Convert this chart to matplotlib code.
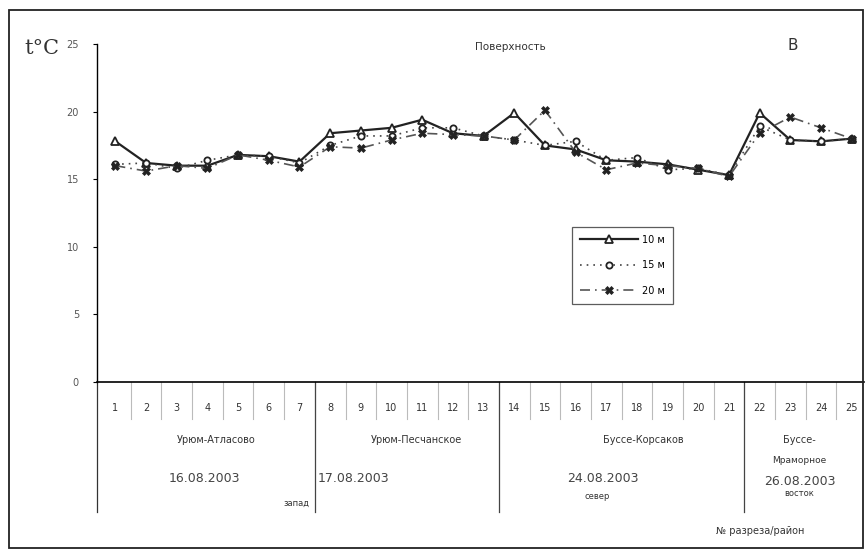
import matplotlib
matplotlib.use("Agg")
import matplotlib.pyplot as plt
from matplotlib.patches import Rectangle

# surface temperature by section, three depths
sections = list(range(1, 26))
t_10m = [17.8, 16.2, 16.0, 16.0, 16.8, 16.7, 16.3, 18.4, 18.6, 18.8, 19.4, 18.4, 18.2,
         19.9, 17.5, 17.2, 16.4, 16.3, 16.1, 15.7, 15.3, 19.9, 17.9, 17.8, 18.0]
t_15m = [16.1, 16.2, 15.8, 16.4, 16.8, 16.7, 16.2, 17.5, 18.2, 18.2, 18.8, 18.8, 18.2,
         17.9, 17.5, 17.8, 16.4, 16.6, 15.7, 15.8, 15.3, 18.9, 17.9, 17.8, 18.0]
t_20m = [16.0, 15.6, 16.0, 15.8, 16.8, 16.4, 15.9, 17.4, 17.3, 17.9, 18.4, 18.3, 18.2,
         17.9, 20.1, 17.0, 15.7, 16.2, 16.0, 15.8, 15.2, 18.4, 19.6, 18.8, 18.0]

# areas under the axis
area_names = ["Урюм-Атласово", "Урюм-Песчанское", "Буссе-Корсаков", "Буссе-\nМраморное"]
area_first = [1, 8, 14, 22]
area_last = [7, 13, 21, 25]
area_dates = ["16.08.2003", "17.08.2003", "24.08.2003", "26.08.2003"]
directions = ["запад", "север", "восток"]

fig = plt.figure(figsize=(8.67, 5.5), dpi=100)
W, H = 867.0, 550.0
ax = fig.add_axes([97 / W, 1 - 382 / H, 767 / W, 338 / H])

ax.plot(sections, t_10m, color="#222222", lw=1.6, ls="-", marker="^", ms=5.5,
        mfc="white", mec="#222222", mew=1.3, label="10 м")
ax.plot(sections, t_15m, color="#444444", lw=1.2, ls=(0, (1, 3)), marker="o", ms=4.5,
        mfc="white", mec="#222222", mew=1.3, label="15 м")
ax.plot(sections, t_20m, color="#555555", lw=1.2, ls=(0, (6, 3, 1, 3)), marker="X", ms=5.5,
        mfc="#222222", mec="#222222", mew=0.5, label="20 м")

ax.set_xlim(0.4, 25.4)
ax.set_ylim(0, 25)
ax.set_yticks([0, 5, 10, 15, 20, 25])
ax.tick_params(axis="y", labelsize=7, labelcolor="#555555", length=3, width=0.8, pad=10)
ax.set_xticks([])
for s in ["top", "right"]:
    ax.spines[s].set_visible(False)
ax.spines["left"].set_linewidth(1.0)
ax.spines["bottom"].set_linewidth(1.2)

tr = ax.get_xaxis_transform()

# section numbers with thin separators
for i in sections:
    ax.text(i, -0.077, str(i), transform=tr, ha="center", va="center", fontsize=7, color="#333333")
for i in range(1, 25):
    ax.plot([i + 0.5, i + 0.5], [0, -0.11], transform=tr, color="#bbbbbb", lw=0.8, clip_on=False)

# area boundaries
ax.plot([0.4, 0.4], [0, -0.385], transform=tr, color="#333333", lw=0.9, clip_on=False)
for last in area_last[:-1]:
    ax.plot([last + 0.5, last + 0.5], [0, -0.385], transform=tr, color="#444444", lw=0.9,
            clip_on=False)

# area names and dates
name_x = [4.3, 10.8, 18.2, 23.3]
date_x = [3.9, 8.75, 16.9, 23.3]
for k in range(len(area_names)):
    if "\n" in area_names[k]:
        top, bottom = area_names[k].split("\n")
        ax.text(name_x[k], -0.172, top, transform=tr, ha="center", va="center", fontsize=7, color="#333333")
        ax.text(name_x[k], -0.232, bottom, transform=tr, ha="center", va="center", fontsize=6.5, color="#333333")
        ax.text(date_x[k], -0.295, area_dates[k], transform=tr, ha="center", va="center", fontsize=9, color="#444444")
    else:
        ax.text(name_x[k], -0.172, area_names[k], transform=tr, ha="center", va="center", fontsize=7, color="#333333")
        ax.text(date_x[k], -0.285, area_dates[k], transform=tr, ha="center", va="center", fontsize=9, color="#444444")

dir_x = [6.9, 16.7, 23.3]
dir_y = [-0.358, -0.340, -0.330]
for k in range(len(directions)):
    ax.text(dir_x[k], dir_y[k], directions[k], transform=tr, ha="center", va="center",
            fontsize=6, color="#333333")

fig.text(760 / W, 1 - 531 / H, "№ разреза/район", ha="center", va="center", fontsize=7, color="#333333")

# headers
fig.text(24 / W, 1 - 48 / H, "t°C", ha="left", va="center", fontsize=15, family="DejaVu Serif",
         color="#333333")
fig.text(510 / W, 1 - 47 / H, "Поверхность", ha="center", va="center", fontsize=7.5, color="#333333")
fig.text(793 / W, 1 - 45 / H, "B", ha="center", va="center", fontsize=11, color="#333333")

leg = ax.legend(loc="upper left", bbox_to_anchor=((567 - 97) / 767, (382 - 222) / 338),
                fontsize=7, frameon=True, fancybox=False, edgecolor="#333333",
                handlelength=6, borderpad=0.8, labelspacing=1.6, handletextpad=0.4)
leg.get_frame().set_linewidth(0.9)

# outer frame
fig.patches.append(Rectangle((9 / W, 2 / H), 854 / W, 538 / H, transform=fig.transFigure,
                             fill=False, edgecolor="#222222", lw=1.3))

fig.savefig("out.png", dpi=100)
